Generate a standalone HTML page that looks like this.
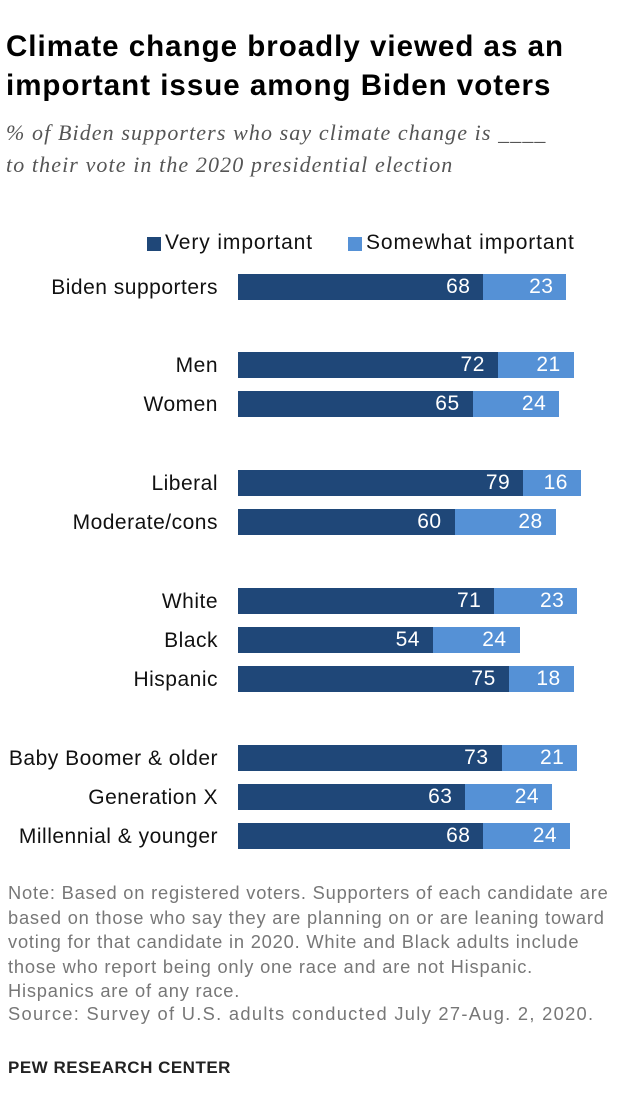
<!DOCTYPE html>
<html><head><meta charset="utf-8"><style>
body{margin:0;width:620px;height:1114px;background:#fff;position:relative;font-family:"Liberation Sans",sans-serif;overflow:hidden}
.a{position:absolute;white-space:nowrap}
.t{left:6px;font-weight:bold;font-size:29.5px;letter-spacing:1px;color:#000;line-height:38px}
.s{left:6px;font-family:"Liberation Serif",serif;font-style:italic;font-size:22px;letter-spacing:1.1px;color:#555;line-height:28px}
.l{right:402px;font-size:21px;letter-spacing:0.5px;color:#111;text-align:right}
.b{height:26px;color:#fff;font-size:21px;letter-spacing:0.5px;line-height:26px;text-align:right;box-sizing:border-box;padding-right:13px}
.d{background:#1f4778}.g{background:#5591d6}
.n{left:8px;font-size:18.3px;letter-spacing:0.8px;color:#777;line-height:24.5px}
</style></head><body>
<div class="a t" style="top:28px">Climate change broadly viewed as an</div>
<div class="a t" style="top:67px">important issue among Biden voters</div>
<div class="a s" style="top:119px">% of Biden supporters who say climate change is ____</div>
<div class="a s" style="top:151px">to their vote in the 2020 presidential election</div>
<div class="a" style="left:147px;top:237px;width:14px;height:14px;background:#1f4778"></div>
<div class="a" style="left:165px;top:231px;font-size:21px;letter-spacing:0.9px;color:#111">Very important</div>
<div class="a" style="left:348px;top:237px;width:14px;height:14px;background:#5591d6"></div>
<div class="a" style="left:366px;top:231px;font-size:21px;letter-spacing:0.9px;color:#111">Somewhat important</div>
<div id="c"></div>
<div class="a n" style="top:881px">Note: Based on registered voters. Supporters of each candidate are<br>based on those who say they are planning on or are leaning toward<br>voting for that candidate in 2020. White and Black adults include<br>those who report being only one race and are not Hispanic.<br>Hispanics are of any race.</div>
<div class="a n" style="top:1003px;line-height:22px;letter-spacing:1.3px">Source: Survey of U.S. adults conducted July 27-Aug. 2, 2020.</div>
<div class="a" style="left:8px;top:1058px;font-size:17px;letter-spacing:0.5px;font-weight:bold;color:#222">PEW RESEARCH CENTER</div>
<script>
var rows=[["Biden supporters",287,68,23],["Men",365,72,21],["Women",404,65,24],["Liberal",483,79,16],["Moderate/cons",522,60,28],["White",601,71,23],["Black",640,54,24],["Hispanic",679,75,18],["Baby Boomer & older",758,73,21],["Generation X",797,63,24],["Millennial & younger",836,68,24]];
var h="",k=3.61;
rows.forEach(function(r){var y=r[1]-13,w1=r[2]*k,w2=r[3]*k;
h+='<div class="a l" style="top:'+(y+1)+'px;line-height:26px">'+r[0].replace("&","&amp;")+'</div>';
h+='<div class="a b d" style="left:238px;top:'+y+'px;width:'+w1+'px">'+r[2]+'</div>';
h+='<div class="a b g" style="left:'+(238+w1)+'px;top:'+y+'px;width:'+w2+'px">'+r[3]+'</div>';});
document.getElementById("c").innerHTML=h;
</script>
</body></html>
